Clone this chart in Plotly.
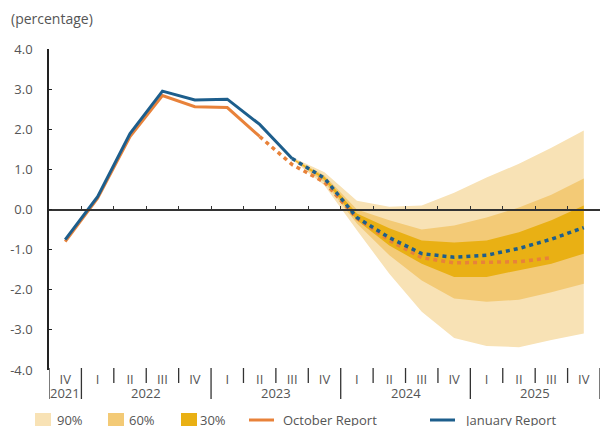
import numpy as np
import plotly.graph_objects as go

# Quarterly axis: 2021 Q4 through 2025 Q4
quarter_labels = ["IV", "I", "II", "III", "IV", "I", "II", "III", "IV",
                  "I", "II", "III", "IV", "I", "II", "III", "IV"]
years = ["2021", "2022", "2023", "2024", "2025"]
quarters_per_year = [1, 4, 4, 4, 4]

# Inflation projections (percentage)
january_report = [-0.75, 0.32, 1.89, 2.95, 2.73, 2.75, 2.12, 1.27, 0.78,
                  -0.20, -0.70, -1.10, -1.19, -1.14, -0.97, -0.74, -0.45]
october_report = [-0.80, 0.28, 1.82, 2.84, 2.56, 2.54, 1.82, 1.12, 0.68,
                  -0.22, -0.77, -1.20, -1.33, -1.32, -1.30, -1.20]

# Uncertainty bands around the January projection (2023 Q3 onward)
band_start = 7
band90_upper = [1.30, 0.93, 0.22, 0.07, 0.10, 0.42, 0.80, 1.14, 1.54, 1.97]
band90_lower = [1.24, 0.60, -0.52, -1.60, -2.55, -3.20, -3.40, -3.43, -3.25, -3.09]
band60_upper = [1.29, 0.85, 0.00, -0.27, -0.50, -0.40, -0.20, 0.05, 0.37, 0.77]
band60_lower = [1.25, 0.68, -0.35, -1.14, -1.77, -2.22, -2.30, -2.25, -2.06, -1.85]
band30_upper = [1.28, 0.81, -0.10, -0.47, -0.77, -0.82, -0.77, -0.57, -0.27, 0.10]
band30_lower = [1.26, 0.74, -0.27, -0.90, -1.35, -1.68, -1.68, -1.52, -1.35, -1.10]

y_ticks = [4, 3, 2, 1, 0, -1, -2, -3, -4]

C90, C60, C30 = "#F8E2B5", "#F3CA76", "#E9B014"
BLUE, ORANGE = "#1D5E8C", "#E8823A"
TEXT = "#555555"
FONT = "Open Sans"

x = np.arange(len(quarter_labels)) + 0.5
x_band = x[band_start:]

fig = go.Figure()

for lower, upper, color in [(band90_lower, band90_upper, C90),
                            (band60_lower, band60_upper, C60),
                            (band30_lower, band30_upper, C30)]:
    fig.add_trace(go.Scatter(x=x_band, y=lower, mode="lines",
                             line=dict(width=0, color=color),
                             showlegend=False, hoverinfo="skip"))
    fig.add_trace(go.Scatter(x=x_band, y=upper, mode="lines", fill="tonexty",
                             fillcolor=color, line=dict(width=0, color=color),
                             showlegend=False, hoverinfo="skip"))

# October report: outturns solid, projection dotted
oct_x = x[:len(october_report)]
fig.add_trace(go.Scatter(x=oct_x[:7], y=october_report[:7], mode="lines",
                         line=dict(color=ORANGE, width=3), showlegend=False))
fig.add_trace(go.Scatter(x=oct_x[6:], y=october_report[6:], mode="lines",
                         line=dict(color=ORANGE, width=3.5, dash="4px,4px"),
                         showlegend=False))

# January report: outturns solid, projection dotted
fig.add_trace(go.Scatter(x=x[:8], y=january_report[:8], mode="lines",
                         line=dict(color=BLUE, width=3), showlegend=False))
fig.add_trace(go.Scatter(x=x[7:], y=january_report[7:], mode="lines",
                         line=dict(color=BLUE, width=3.5, dash="4px,4px"),
                         showlegend=False))

# Carrier trace for the zero-line axis
fig.add_trace(go.Scatter(x=[None], y=[None], xaxis="x2", showlegend=False,
                         hoverinfo="skip"))

n_q = len(quarter_labels)

# Plot-area geometry (pixels) used to place decorations in paper units
L, R, T, B = 49, 2, 49, 56
W, H = 602, 426
PW, PH = W - L - R, H - T - B


def px_x(p):
    return (p - L) / PW


def px_y(p):
    return (H - B - p) / PH


shapes = []
annotations = []

# Quarter and year separators below the plot
boundaries = np.cumsum([0] + quarters_per_year)
year_bounds = set(boundaries.tolist())
for b in range(0, n_q + 1):
    is_year = b in year_bounds
    shapes.append(dict(type="line", xref="x", yref="paper", x0=b, x1=b,
                       y0=px_y(368), y1=px_y(399 if is_year else 383),
                       line=dict(color="#333333", width=1.3)))

for i, yr in enumerate(years):
    mid = (boundaries[i] + boundaries[i + 1]) / 2
    annotations.append(dict(x=mid, xref="x", y=px_y(393), yref="paper",
                            text=yr, showarrow=False, xanchor="center",
                            yanchor="middle",
                            font=dict(size=13, color=TEXT, family=FONT)))

annotations.append(dict(x=px_x(9), xref="paper", y=px_y(18), yref="paper",
                        text="(percentage)", showarrow=False, xanchor="left",
                        yanchor="middle",
                        font=dict(size=14, color=TEXT, family=FONT)))

# Legend
legend_y = 420
for x0, color, label, tx in [(35, C90, "90%", 55), (108, C60, "60%", 127),
                             (181, C30, "30%", 198)]:
    shapes.append(dict(type="rect", xref="paper", yref="paper",
                       x0=px_x(x0), x1=px_x(x0 + 16),
                       y0=px_y(413), y1=px_y(429),
                       fillcolor=color, line=dict(width=0)))
    annotations.append(dict(x=px_x(tx), xref="paper", y=px_y(legend_y),
                            yref="paper", text=label, showarrow=False,
                            xanchor="left", yanchor="middle",
                            font=dict(size=13, color=TEXT, family=FONT)))
for x0, color, label, tx in [(249, ORANGE, "October Report", 281),
                             (430, BLUE, "January Report", 462)]:
    shapes.append(dict(type="line", xref="paper", yref="paper",
                       x0=px_x(x0), x1=px_x(x0 + 25),
                       y0=px_y(legend_y), y1=px_y(legend_y),
                       line=dict(color=color, width=3)))
    annotations.append(dict(x=px_x(tx), xref="paper", y=px_y(legend_y),
                            yref="paper", text=label, showarrow=False,
                            xanchor="left", yanchor="middle",
                            font=dict(size=13, color=TEXT, family=FONT)))

fig.update_layout(
    width=W, height=H,
    margin=dict(l=L, r=R, t=T, b=B),
    paper_bgcolor="white", plot_bgcolor="white",
    font=dict(family=FONT, color=TEXT, size=13),
    showlegend=False,
    xaxis=dict(range=[0, n_q], tickvals=x, ticktext=quarter_labels,
               ticks="", showline=False, showgrid=False, zeroline=False,
               tickfont=dict(size=13, color=TEXT), fixedrange=True),
    xaxis2=dict(range=[0, n_q], overlaying="x", anchor="free", position=0.5,
                side="top", tickvals=list(range(1, n_q)), ticks="outside",
                ticklen=3, tickwidth=1.3, tickcolor="#333333",
                showline=True, linecolor="#333333", linewidth=1.6,
                showticklabels=False, showgrid=False, zeroline=False),
    yaxis=dict(range=[-4, 4], tickvals=y_ticks,
               ticktext=[f"{v:.1f}" for v in y_ticks],
               ticks="inside", ticklen=3, tickcolor="#222222",
               showline=True, linecolor="#222222", linewidth=1.5,
               showgrid=False, zeroline=False, ticklabelstandoff=12,
               tickfont=dict(size=13, color=TEXT)),
    shapes=shapes,
    annotations=annotations,
)

fig.write_html("out.html")
